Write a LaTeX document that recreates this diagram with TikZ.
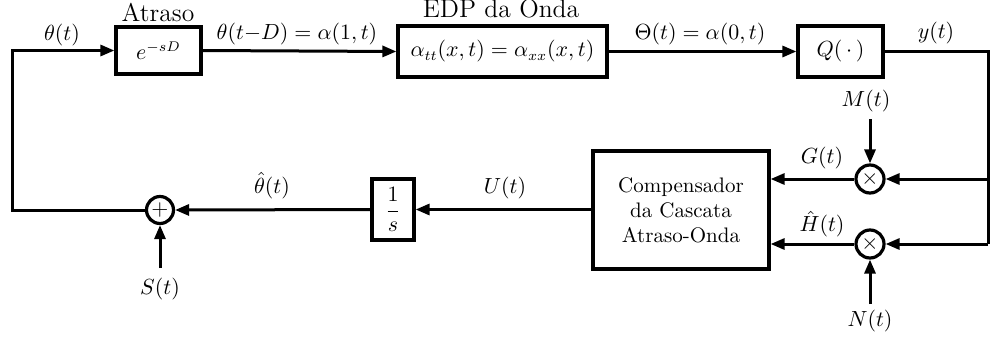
\documentclass[tikz,border=0pt]{standalone}
\usetikzlibrary{arrows.meta}
\begin{document}
\begin{tikzpicture}[x=0.5pt,y=-0.5pt,
  every node/.style={font=\fontsize{10.5}{12.5}\selectfont},
  ttl/.style={font=\fontsize{12.8}{15}\selectfont},
  blk/.style={draw,line width=1.6pt,inner sep=0pt,align=center},
  junc/.style={draw,circle,line width=1.6pt,inner sep=0pt,minimum size=13.5pt},
  sig/.style={line width=1.5pt,-{Triangle[length=7pt,width=5.5pt]}},
  wire/.style={line width=1.5pt}]
\useasboundingbox (0,0) rectangle (990,338);
% blocks
\node[blk,minimum width=42.5pt,minimum height=23.5pt] (atr) at (158.5,50.5) {$e^{-sD}$};
\node[blk,minimum width=104.5pt,minimum height=25.5pt] (edp) at (502.5,51.5) {$\alpha_{tt}(x,t)=\alpha_{xx}(x,t)$};
\node[blk,minimum width=42.5pt,minimum height=25.5pt] (q) at (840.5,51.5) {$Q(\,\cdot\,)$};
\node[blk,minimum width=88pt,minimum height=59pt] (comp) at (681,210) {Compensador\\da Cascata\\Atraso-Onda};
\node[blk,minimum width=21pt,minimum height=30.5pt] (int) at (393,209.5) {$\displaystyle\frac{1}{s}$};
\node[junc] (sum) at (160,210) {$+$};
\node[junc,minimum size=14pt] (m1) at (870,179) {$\times$};
\node[junc,minimum size=14pt] (m2) at (870,244) {$\times$};
% labels
\node[ttl] (latr) at (158,12) {Atraso};
\node[ttl] (ledp) at (501,9) {EDP da Onda};
\node (lth) at (62,35) {$\theta(t)$};
\node (lthd) at (297,34) {$\theta(t{-}D)=\alpha(1,t)$};
\node (lTh) at (700,34) {$\Theta(t)=\alpha(0,t)$};
\node (ly) at (936,33) {$y(t)$};
\node (lM) at (866,101) {$M(t)$};
\node (lG) at (822,158) {$G(t)$};
\node (lH) at (822,224) {$\hat{H}(t)$};
\node (lN) at (870,321) {$N(t)$};
\node (lU) at (505,188) {$U(t)$};
\node (lthh) at (272,186) {$\hat{\theta}(t)$};
\node (lS) at (160,289) {$S(t)$};
% coordinates
\coordinate (cl) at (12,210);
\coordinate (cr1) at (988,179);
\coordinate (cr2) at (988,244);
\coordinate (cM) at (870,119);
\coordinate (cN) at (870,304);
\coordinate (cS) at (160,268);
% connectors
\draw[sig] (atr.east) -- (edp.west);
\draw[sig] (edp.east) -- (q.west);
\draw[wire] (q.east) -| (cr2);
\draw[sig] (cr2) -- (m2.east);
\draw[sig] (cr1) -- (m1.east);
\draw[sig] (cM) -- (m1.north);
\draw[sig] (cN) -- (m2.south);
\draw[sig] (m1.west) -- (m1.west -| comp.east);
\draw[sig] (m2.west) -- (m2.west -| comp.east);
\draw[sig] (comp.west |- int.east) -- (int.east);
\draw[sig] (int.west) -- (sum.east);
\draw[sig] (cS) -- (sum.south);
\draw[sig] (sum.west) -- (cl) |- (atr.west);
\end{tikzpicture}
\end{document}
